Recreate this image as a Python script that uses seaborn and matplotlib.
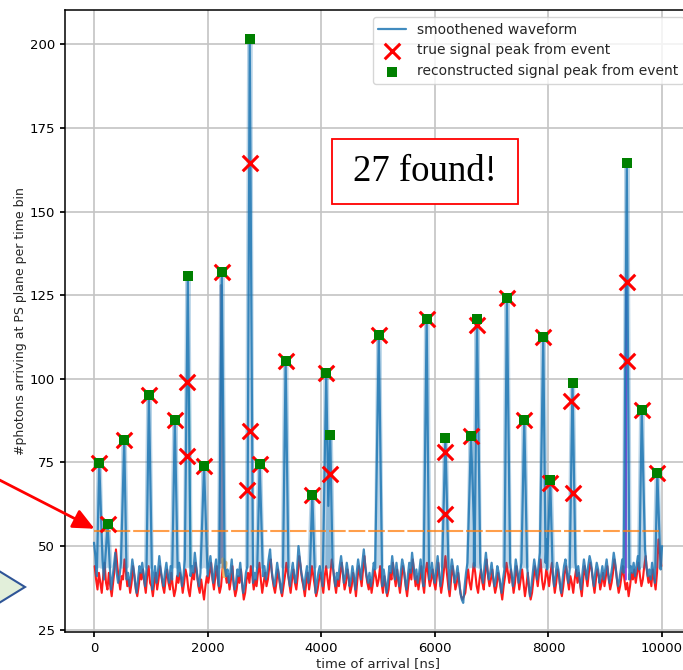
import numpy as np
import pandas as pd
import matplotlib
matplotlib.use("Agg")
import matplotlib.pyplot as plt
import seaborn as sns
from matplotlib.patches import Rectangle, Polygon, FancyArrowPatch

# ---------------------------------------------------------------------------
# data
# ---------------------------------------------------------------------------
# smoothened waveform baseline, one sample every 25 ns from 0 to 10000 ns
smooth_baseline = [
    51, 47, 41, 44, 39, 42, 46, 40, 38, 43, 45, 41, 37, 40, 44, 48, 42, 39, 41, 45,
    43, 49, 44, 40, 42, 38, 41, 46, 43, 39, 36, 40, 44, 42, 45, 41, 38, 43, 47, 42,
    40, 37, 41, 44, 39, 42, 47, 43, 40, 38, 42, 45, 41, 39, 44, 40, 36, 39, 43, 41,
    45, 42, 38, 41, 46, 43, 39, 37, 41, 44, 42, 48, 44, 40, 38, 42, 39, 35, 40, 43,
    41, 44, 47, 42, 39, 43, 46, 41, 38, 40, 45, 49, 44, 41, 43, 39, 42, 46, 40, 37,
    39, 43, 41, 45, 40, 36, 38, 42, 44, 41, 46, 43, 39, 42, 40, 44, 47, 42, 38, 41,
    44, 40, 42, 46, 49, 43, 40, 38, 41, 45, 42, 39, 36, 40, 43, 47, 44, 41, 38, 42,
    45, 41, 39, 43, 50, 46, 42, 40, 37, 41, 44, 39, 42, 46, 43, 40, 36, 39, 42, 44,
    41, 38, 43, 46, 42, 39, 44, 48, 45, 41, 38, 42, 40, 44, 47, 43, 39, 41, 45, 42,
    38, 40, 44, 41, 37, 42, 46, 43, 40, 45, 49, 44, 41, 39, 42, 38, 41, 45, 43, 40,
    42, 46, 41, 38, 43, 40, 36, 39, 44, 42, 47, 43, 40, 45, 41, 38, 42, 46, 44, 40,
    37, 41, 45, 42, 48, 44, 40, 43, 39, 42, 46, 41, 38, 44, 47, 43, 40, 42, 45, 41,
    39, 43, 47, 42, 38, 41, 45, 49, 44, 40, 37, 42, 46, 43, 39, 41, 44, 40, 36, 34,
    33, 38, 42, 45, 41, 39, 43, 47, 44, 40, 38, 42, 45, 41, 39, 44, 48, 43, 40, 42,
    45, 41, 38, 40, 44, 42, 39, 36, 40, 43, 47, 44, 41, 45, 42, 38, 41, 46, 43, 39,
    42, 45, 41, 37, 40, 44, 39, 35, 38, 42, 46, 43, 40, 44, 48, 42, 39, 41, 45, 43,
    40, 44, 47, 42, 38, 41, 45, 43, 39, 36, 40, 44, 46, 42, 39, 43, 41, 38, 42, 45,
    41, 44, 40, 37, 42, 46, 43, 40, 44, 47, 45, 41, 38, 42, 45, 43, 39, 41, 44, 40,
    43, 46, 42, 39, 41, 44, 48, 45, 41, 38, 40, 43, 46, 42, 39, 41, 37, 40, 44, 42,
    45, 41, 44, 47, 43, 40, 42, 46, 49, 44, 41, 43, 40, 45, 42, 39, 44, 48, 46, 43,
    50,
]
smooth_step = 25

# raw waveform baseline, sampled at 12 + 25*k ns
raw_baseline = [
    44, 40, 37, 42, 39, 36, 41, 45, 39, 37, 42, 38, 35, 39, 43, 49, 44, 40, 37, 41,
    40, 46, 42, 38, 40, 36, 39, 44, 41, 37, 35, 38, 42, 40, 43, 39, 36, 41, 44, 39,
    38, 35, 39, 42, 37, 40, 44, 41, 38, 36, 40, 43, 39, 37, 42, 38, 35, 37, 41, 39,
    42, 40, 36, 39, 43, 41, 37, 35, 39, 42, 40, 45, 42, 38, 36, 40, 37, 34, 38, 41,
    39, 42, 45, 40, 37, 41, 44, 39, 36, 38, 43, 46, 42, 39, 41, 37, 40, 44, 38, 35,
    37, 41, 39, 43, 38, 34, 36, 40, 42, 39, 44, 41, 37, 40, 38, 42, 45, 40, 36, 39,
    42, 38, 40, 44, 46, 41, 38, 36, 39, 43, 40, 37, 35, 38, 41, 45, 42, 39, 36, 40,
    43, 39, 37, 41, 47, 44, 40, 38, 35, 39, 42, 37, 40, 44, 41, 38, 35, 37, 40, 42,
    39, 36, 41, 44, 40, 37, 42, 46, 43, 39, 36, 40, 38, 42, 45, 41, 37, 39, 43, 40,
    36, 38, 42, 39, 35, 40, 44, 41, 38, 43, 47, 42, 39, 37, 40, 36, 39, 43, 41, 38,
    40, 44, 39, 36, 41, 38, 35, 37, 42, 40, 45, 41, 38, 43, 39, 36, 40, 44, 42, 38,
    35, 39, 43, 40, 46, 42, 38, 41, 37, 40, 44, 39, 36, 42, 45, 41, 38, 40, 43, 39,
    37, 41, 45, 40, 36, 39, 43, 47, 42, 38, 35, 40, 44, 41, 37, 39, 42, 38, 35, 34,
    35, 36, 40, 43, 39, 37, 41, 45, 42, 38, 36, 40, 43, 39, 37, 42, 46, 41, 38, 40,
    43, 39, 36, 38, 42, 40, 37, 34, 38, 41, 45, 42, 39, 43, 40, 36, 39, 44, 41, 37,
    40, 43, 39, 35, 38, 42, 37, 34, 36, 40, 44, 41, 38, 42, 46, 40, 37, 39, 43, 41,
    38, 42, 45, 40, 36, 39, 43, 41, 37, 35, 38, 42, 44, 40, 37, 41, 39, 36, 40, 43,
    39, 42, 38, 35, 40, 44, 41, 38, 42, 45, 43, 39, 36, 40, 43, 41, 37, 39, 42, 38,
    41, 44, 40, 37, 39, 42, 46, 43, 39, 36, 38, 41, 44, 40, 37, 39, 35, 38, 42, 40,
    43, 39, 42, 45, 41, 38, 40, 44, 47, 42, 39, 41, 38, 43, 40, 37, 42, 52, 48, 44,
]

# reconstructed peaks (maxima of the smoothened waveform)
recon_t = [93, 240, 533, 967, 1424, 1652, 1938, 2250, 2742, 2917, 3374, 3843, 4089,
           4159, 5014, 5857, 6186, 6637, 6743, 7270, 7575, 7909, 8032, 8424, 9380,
           9643, 9917]
recon_y = [74.8, 56.6, 81.6, 95.3, 87.6, 130.7, 73.8, 131.9, 201.6, 74.6, 105.2, 65.4,
           101.7, 83.1, 113.2, 118.0, 82.3, 82.8, 117.8, 124.1, 87.6, 112.5, 69.9,
           98.9, 164.4, 90.6, 71.9]

# minima between closely spaced peaks
valley_t = [4125, 6690, 7970]
valley_y = [62, 56, 52]

# true signal peaks from the event record
true_t = [93, 240, 533, 967, 1424, 1646, 1646, 1938, 2250, 2700, 2742, 2742, 2917,
          3374, 3843, 4089, 4150, 5014, 5857, 6180, 6186, 6637, 6743, 7270, 7575,
          7909, 8020, 8395, 8424, 9375, 9380, 9643, 9917]
true_y = [74.8, 56.6, 81.6, 95.3, 87.6, 99.0, 76.8, 73.8, 131.9, 66.9, 164.4, 84.3,
          74.6, 105.2, 65.4, 101.7, 71.6, 113.2, 118.0, 78.1, 59.6, 82.8, 116.0,
          124.1, 87.6, 112.5, 68.8, 93.4, 66.0, 105.2, 129.0, 90.6, 71.9]

# single-event pulses that stick out behind the smoothened curve
pulse_teal_t, pulse_teal_y = [1700, 1672], [44, 99]
pulse_purple_t, pulse_purple_y = [2222, 2238, 2262], [45, 128, 45]
pulse_orange_t, pulse_orange_y = [2275, 2295, 2315], [46, 41, 45]
pulse_violet_t, pulse_violet_y = [9362, 9372], [40, 129]

threshold = 54.5
threshold_span = [0, 10000]
found_text = "27 found!"

# ---------------------------------------------------------------------------
# assemble the smoothened waveform: baseline samples plus peak maxima
# ---------------------------------------------------------------------------
base_t = np.arange(len(smooth_baseline)) * smooth_step
keep = np.array([min(abs(t - p) for p in recon_t) > 40 for t in base_t])
wave = pd.DataFrame({
    "t": np.concatenate([base_t[keep], recon_t, valley_t]),
    "y": np.concatenate([np.asarray(smooth_baseline)[keep], recon_y, valley_y]),
}).sort_values("t")
raw = pd.DataFrame({"t": 12 + np.arange(len(raw_baseline)) * smooth_step,
                    "y": raw_baseline})

# ---------------------------------------------------------------------------
# figure
# ---------------------------------------------------------------------------
sns.set_theme(style="ticks")
plt.rcParams["font.family"] = ["DejaVu Sans"]
plt.rcParams.update({
    "axes.edgecolor": "black",
    "axes.linewidth": 1.1,
    "xtick.color": "black",
    "ytick.color": "black",
    "xtick.labelsize": 9.5,
    "ytick.labelsize": 9.5,
    "xtick.major.size": 3.5,
    "ytick.major.size": 3.5,
})

W, H = 683, 670


def fig_xy(x, y):
    """pixel position (origin top-left) -> figure fraction"""
    return x / W, 1 - y / H


fig = plt.figure(figsize=(W / 100, H / 100), dpi=100)
ax = fig.add_axes([65 / W, 1 - 632 / H, (691 - 65) / W, (632 - 10) / H])

ax.grid(True, color="#c4c4c4", linewidth=1.2)
ax.set_axisbelow(True)

# raw waveform
sns.lineplot(data=raw, x="t", y="y", ax=ax, color="#ff1a1a", linewidth=1.5,
             estimator=None, sort=False)

# coloured single-event pulses
sns.lineplot(x=pulse_teal_t, y=pulse_teal_y, ax=ax, color="#5fe0b0", alpha=0.7,
             linewidth=1.5, estimator=None, sort=False)
sns.lineplot(x=pulse_purple_t, y=pulse_purple_y, ax=ax, color="#8a6d94", alpha=0.8,
             linewidth=1.8, estimator=None, sort=False)
sns.lineplot(x=pulse_orange_t, y=pulse_orange_y, ax=ax, color="#f0b050", alpha=0.8,
             linewidth=3, estimator=None, sort=False)
sns.lineplot(x=pulse_violet_t, y=pulse_violet_y, ax=ax, color="#8a2be2", alpha=0.9,
             linewidth=1.5, estimator=None, sort=False)

# light halo around each pulse of the smoothened waveform
for t, h in zip(recon_t, recon_y):
    sns.lineplot(x=[t - 40, t, t + 40], y=[44, h, 44], ax=ax, color="#1f77b4",
                 alpha=0.3, linewidth=3.8, estimator=None, sort=False)

# smoothened waveform
sns.lineplot(data=wave, x="t", y="y", ax=ax, color="#1f77b4", alpha=0.85,
             linewidth=1.6, estimator=None, sort=False, label="smoothened waveform")

# threshold
ax.plot(threshold_span, [threshold, threshold], color="#ff7f0e", alpha=0.75,
        linewidth=1.5, dashes=(8, 1.4))

# peaks
sns.scatterplot(x=true_t, y=true_y, ax=ax, marker="x", color="red", s=125,
                linewidth=2.2, zorder=4, label="true signal peak from event")
sns.scatterplot(x=recon_t, y=recon_y, ax=ax, marker="s", color="green", s=50,
                linewidth=0, zorder=5, label="reconstructed signal peak from event")

ax.set_xlim(-510, 10510)
ax.set_ylim(24.3, 210.3)
ax.set_yticks(range(25, 201, 25))
ax.set_xticks(range(0, 10001, 2000))
ax.set_xlabel("time of arrival [ns]", fontsize=9.5, labelpad=2)
ax.set_ylabel("#photons arriving at PS plane per time bin", fontsize=9, labelpad=2)

handles, labels = ax.get_legend_handles_labels()
ax.legend(handles, labels, loc="upper right", fontsize=10, frameon=True,
          framealpha=0.8, edgecolor="#cccccc", fancybox=True)

# annotation box
bx0, by0 = fig_xy(332, 204)
bx1, by1 = fig_xy(518, 139)
fig.patches.append(Rectangle((bx0, by0), bx1 - bx0, by1 - by0, transform=fig.transFigure,
                             facecolor="white", edgecolor="#ff0000", linewidth=1.3,
                             zorder=1))
tx, ty = fig_xy(425, 172)
fig.text(tx, ty, found_text, ha="center", va="center", fontsize=26.5,
         family=["Liberation Serif", "DejaVu Serif"], color="black", zorder=3)

# pointer arrow towards the threshold line
fig.patches.append(FancyArrowPatch(fig_xy(-20, 470), fig_xy(97, 530),
                                   transform=fig.transFigure, color="#ff0000",
                                   linewidth=2,
                                   arrowstyle="-|>,head_length=0.65,head_width=0.3",
                                   mutation_scale=20, zorder=2))

# partial diamond shape at the left margin
fig.patches.append(Polygon([fig_xy(-40, 547), fig_xy(25, 587), fig_xy(-40, 627)],
                           closed=True, transform=fig.transFigure,
                           facecolor="#e2efda", edgecolor="#2f5597", linewidth=1.5,
                           zorder=1))

fig.savefig("out.png", dpi=100)
